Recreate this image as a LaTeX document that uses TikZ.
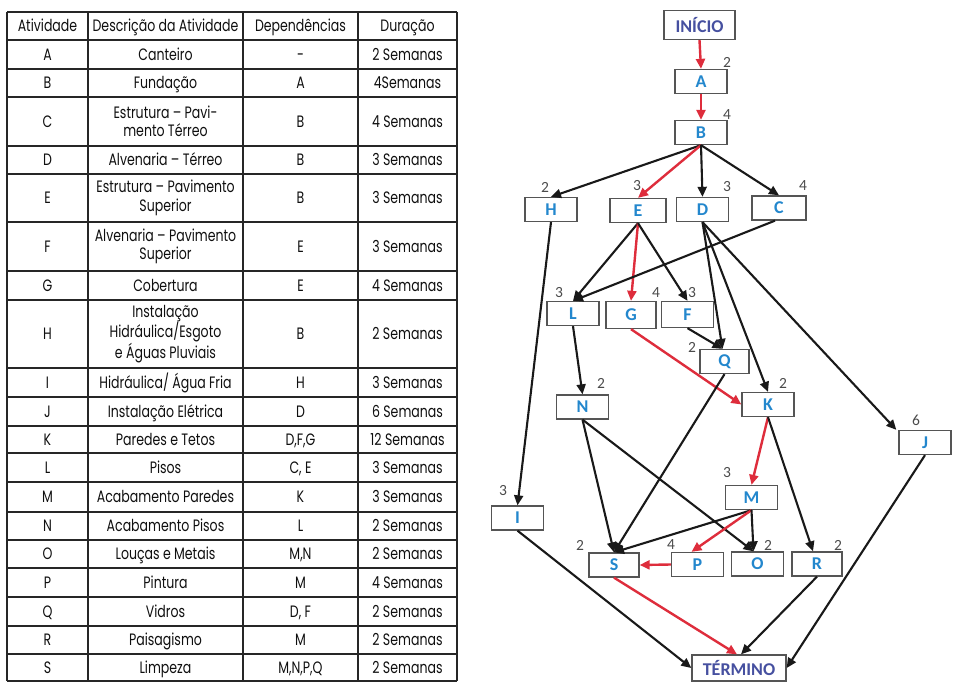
\documentclass[tikz,border=0pt]{standalone}
\usepackage{fontspec}
\setmainfont{Carlito}
\newfontfamily\tabfont{Poppins}[FakeStretch=0.76]
\usetikzlibrary{arrows.meta}

\definecolor{edgeblack}{RGB}{25,25,25}
\definecolor{edgered}{RGB}{222,45,60}
\definecolor{boxgray}{RGB}{85,85,85}
\definecolor{lblblue}{RGB}{35,135,205}
\definecolor{endblue}{RGB}{70,80,160}
\definecolor{numgray}{RGB}{75,75,75}
\definecolor{tabtext}{RGB}{15,15,15}

\tikzset{
  act/.style={draw=boxgray, line width=1.3pt, fill=white, minimum width=52pt,
    minimum height=24pt, inner sep=0pt, text=lblblue,
    font=\bfseries\fontsize{18}{18}\selectfont},
  endpt/.style={act, text=endblue, minimum height=29pt},
  dur/.style={text=numgray, inner sep=0pt, font=\fontsize{15.5}{15.5}\selectfont},
  flow/.style={draw=edgeblack, line width=2.1pt, -{Triangle[length=10pt,width=9pt]}},
  crit/.style={flow, draw=edgered, fill=edgered, line width=2.4pt},
  mcell/.style={text=tabtext, inner sep=0pt, align=center,
    font=\tabfont\fontsize{16.5}{18.5}\selectfont},
  cell/.style={mcell, text height=11.5pt, text depth=0pt},
  grid/.style={draw=black!85, line width=1.3pt}
}

\begin{document}
\begin{tikzpicture}[x=1pt,y=-1pt]
\useasboundingbox (0,0) rectangle (953,682);

% ---------------- activity table ----------------
\foreach \y in {12,40,69,97,146,174,222,271,300,368,397,426,453,482,512,540,568,597,626,654,681}
  \draw[grid] (7,\y) -- (457,\y);
\foreach \x in {7,88,243,358,457}
  \draw[grid] (\x,12) -- (\x,681);

\node[cell] (h1) at (47.5,26) {Atividade};
\node[cell] (h2) at (165.5,26) {Descrição da Atividade};
\node[cell] (h3) at (300.5,26) {Dependências};
\node[cell] (h4) at (407.5,26) {Duração};

% single-line rows
\foreach \c/\d/\p/\t/\yy in {
  A/Canteiro/-/2 Semanas/54.5,
  B/Fundação/A/4Semanas/83,
  D/Alvenaria – Térreo/B/3 Semanas/160,
  G/Cobertura/E/4 Semanas/285.5,
  I/{Hidráulica/ Água Fria}/H/3 Semanas/382.5,
  J/Instalação Elétrica/D/6 Semanas/411.5,
  K/Paredes e Tetos/{D,F,G}/12 Semanas/439.5,
  L/Pisos/{C, E}/3 Semanas/467.5,
  M/Acabamento Paredes/K/3 Semanas/497,
  N/Acabamento Pisos/L/2 Semanas/526,
  O/Louças e Metais/{M,N}/2 Semanas/554,
  P/Pintura/M/4 Semanas/582.5,
  Q/Vidros/{D, F}/2 Semanas/611.5,
  R/Paisagismo/M/2 Semanas/640,
  S/Limpeza/{M,N,P,Q}/2 Semanas/668}
{
  \node[cell] (act\c) at (47.5,\yy) {\c};
  \node[cell] (desc\c) at (165.5,\yy) {\d};
  \node[cell] (dep\c) at (300.5,\yy) {\p};
  \node[cell] (time\c) at (407.5,\yy) {\t};
}

% rows whose description wraps
\foreach \c/\d/\p/\t/\yy in {
  C/{Estrutura – Pavi-\\mento Térreo}/B/4 Semanas/121.5,
  E/{Estrutura – Pavimento\\Superior}/B/3 Semanas/198,
  F/{Alvenaria – Pavimento\\Superior}/E/3 Semanas/246.5,
  H/{Instalação\\Hidráulica/Esgoto\\e Águas Pluviais}/B/2 Semanas/334}
{
  \node[cell] (act\c) at (47.5,\yy) {\c};
  \node[mcell] (desc\c) at (165.5,\yy) {\d};
  \node[cell] (dep\c) at (300.5,\yy) {\p};
  \node[cell] (time\c) at (407.5,\yy) {\t};
}

% ---------------- activity network ----------------
\node[endpt, minimum width=71pt] (ini) at (699.5,25) {INÍCIO};
\node[act] (A) at (701,81.5) {A};
\node[act] (B) at (701,132.5) {B};
\node[act] (H) at (551,209.5) {H};
\node[act, minimum width=56pt] (E) at (638,210.5) {E};
\node[act] (D) at (702.5,209.5) {D};
\node[act, minimum width=54pt] (C) at (779,208) {C};
\node[act] (L) at (573,313.5) {L};
\node[act, minimum width=50pt, minimum height=27pt] (G) at (631,315) {G};
\node[act, minimum height=26pt] (F) at (687.5,314.5) {F};
\node[act, minimum width=49pt] (Q) at (724.5,361.5) {Q};
\node[act] (N) at (582.5,407) {N};
\node[act] (K) at (768,404.5) {K};
\node[act] (J) at (925,442.5) {J};
\node[act] (I) at (517.5,518) {I};
\node[act] (M) at (751.5,497.5) {M};
\node[act, minimum width=50pt] (S) at (614,565) {S};
\node[act] (P) at (697.5,564.5) {P};
\node[act] (O) at (757.5,564) {O};
\node[act, minimum width=50pt] (R) at (817,564) {R};
\node[endpt, minimum width=94pt, minimum height=26pt] (fim) at (739,668) {TÉRMINO};

% durations
\node[dur] (dA) at (727,62) {2};
\node[dur] (dB) at (727,115) {4};
\node[dur] (dH) at (545,187) {2};
\node[dur] (dE) at (637,186) {3};
\node[dur] (dD) at (727,187) {3};
\node[dur] (dC) at (803,186) {4};
\node[dur] (dL) at (559,293) {3};
\node[dur] (dG) at (656,293) {4};
\node[dur] (dF) at (692,293) {3};
\node[dur] (dQ) at (692,347) {2};
\node[dur] (dN) at (601,383) {2};
\node[dur] (dK) at (783,383) {2};
\node[dur] (dJ) at (916,420) {6};
\node[dur] (dI) at (503,491) {3};
\node[dur] (dM) at (727,473) {3};
\node[dur] (dS) at (580,545) {2};
\node[dur] (dP) at (671,545) {4};
\node[dur] (dO) at (768,545) {2};
\node[dur] (dR) at (838,545) {2};

% dependencies (critical path in red)
\draw[crit] (ini.south) -- (A.north);
\draw[crit] (A.south) -- (B.north);
\draw[flow] (B.south) -- (H.north);
\draw[crit] (B.south) -- (E.north);
\draw[flow] (B.south) -- (D.north);
\draw[flow] (B.south) -- (C.north);
\draw[flow] (H.south) -- (I.north);
\draw[flow] (E.south) -- (L.north);
\draw[crit] (E.south) -- (G.north);
\draw[flow] (E.south) -- (F.north);
\draw[flow] ([xshift=-4pt]C.south) -- (L.north);
\draw[flow] (D.south) -- ([xshift=-2pt]Q.north);
\draw[flow] (F.south) -- ([xshift=-2pt]Q.north);
\draw[flow] (D.south) -- (K.north);
\draw[flow] (D.south) -- ([xshift=-2pt]J.north west);
\draw[crit] (G.south) -- (K.west);
\draw[flow] (L.south) -- (N.north);
\draw[flow] (N.south) -- (S.north);
\draw[flow] (N.south) -- ([xshift=-4pt]O.north);
\draw[flow] (Q.south) -- (S.north);
\draw[crit] (K.south) -- (M.north);
\draw[flow] (K.south) -- ([xshift=-4pt]R.north);
\draw[flow] (M.south) -- (S.north);
\draw[crit] (M.south) -- ([xshift=-6pt]P.north);
\draw[flow] (M.south) -- ([xshift=-4pt]O.north);
\draw[crit] (P.west) -- (S.east);
\draw[flow] (I.south) -- (fim.west);
\draw[crit] (S.south) -- ([xshift=-2pt]fim.north);
\draw[flow] (R.south) -- ([xshift=2pt]fim.north);
\draw[flow] (J.south) -- (fim.east);
\end{tikzpicture}
\end{document}
